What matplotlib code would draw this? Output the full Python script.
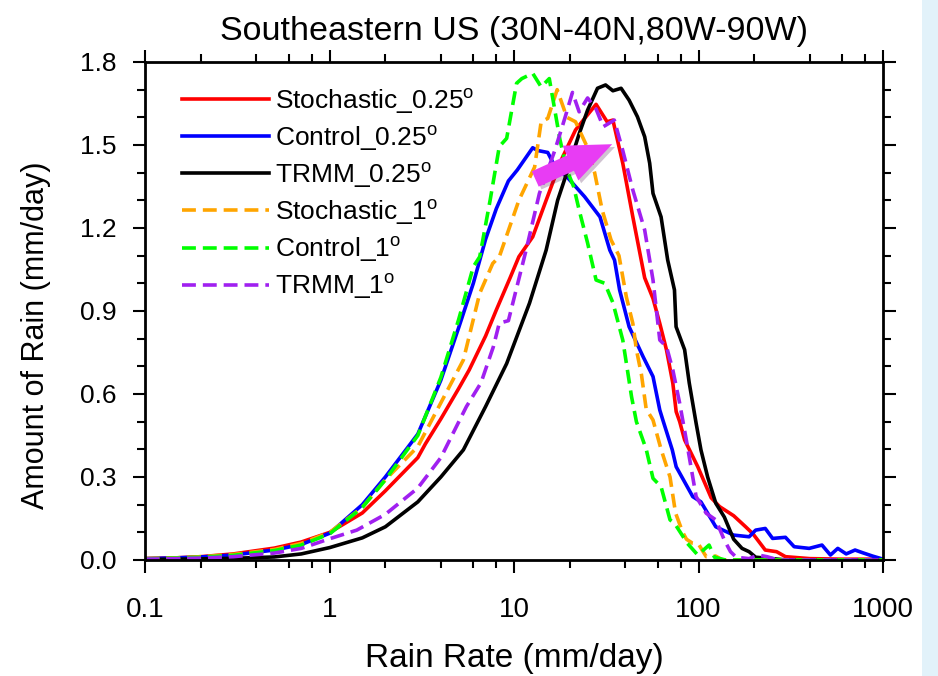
import matplotlib
matplotlib.use("Agg")
import matplotlib.pyplot as plt
from matplotlib.ticker import FixedLocator, NullFormatter
from matplotlib.patches import Rectangle, FancyArrowPatch
import matplotlib.patheffects as pe

plt.rcParams['font.family'] = ['Liberation Sans', 'DejaVu Sans']
plt.rcParams['mathtext.fontset'] = 'custom'
plt.rcParams['mathtext.rm'] = 'Liberation Sans'
plt.rcParams['lines.scale_dashes'] = False

title = "Southeastern US (30N-40N,80W-90W)"
xlabel = "Rain Rate (mm/day)"
ylabel = "Amount of Rain (mm/day)"
xticks = [0.1, 1, 10, 100, 1000]
xticklabels = ["0.1", "1", "10", "100", "1000"]
yticks = [0.0, 0.3, 0.6, 0.9, 1.2, 1.5, 1.8]
yticklabels = ["0.0", "0.3", "0.6", "0.9", "1.2", "1.5", "1.8"]

# Stochastic_0.25
stoch025_x = [0.1, 0.15, 0.2, 0.3, 0.5, 0.7, 1.0, 1.5, 2.0, 3.0, 3.3, 4.0, 5.0, 5.7, 7.0, 8.0, 9.5,
              10.6, 12.6, 14.9, 18.0, 21.5, 24.1, 27.8, 31.9, 34.3, 38.8, 44, 51, 56.6, 61.6, 67,
              72.5, 75.6, 79, 84, 99, 117, 130, 155, 180, 197, 230, 265, 296, 400, 600, 1000]
stoch025_y = [0.005, 0.008, 0.012, 0.022, 0.043, 0.065, 0.10, 0.17, 0.25, 0.37, 0.42, 0.51, 0.62,
              0.687, 0.81, 0.904, 1.02, 1.096, 1.168, 1.30, 1.446, 1.554, 1.596, 1.647, 1.584, 1.59,
              1.434, 1.24, 1.02, 0.945, 0.855, 0.759, 0.639, 0.536, 0.50, 0.434, 0.337, 0.225,
              0.193, 0.16, 0.12, 0.095, 0.036, 0.03, 0.012, 0.005, 0.003, 0.003]

# Control_0.25
ctrl025_x = [0.1, 0.15, 0.2, 0.3, 0.5, 0.7, 1.0, 1.5, 2.0, 3.0, 4.0, 5.0, 6.0, 7.0, 8.0, 9.3, 10.4,
             12.6, 13.4, 15.2, 16.7, 19.3, 24.1, 29.2, 33, 35, 37.3, 42, 50, 56.6, 61.6, 64, 72,
             75.6, 93, 103, 124, 155, 188, 204, 230, 252, 296, 330, 398, 467, 519, 569, 632, 706,
             778, 880, 990]
ctrl025_y = [0.005, 0.008, 0.011, 0.018, 0.036, 0.056, 0.097, 0.20, 0.30, 0.455, 0.65, 0.84, 1.0,
             1.16, 1.27, 1.37, 1.41, 1.49, 1.48, 1.473, 1.42, 1.385, 1.313, 1.24, 1.12, 1.084,
             0.976, 0.843, 0.735, 0.663, 0.542, 0.506, 0.398, 0.337, 0.229, 0.21, 0.12, 0.09,
             0.084, 0.108, 0.114, 0.078, 0.082, 0.048, 0.042, 0.054, 0.018, 0.042, 0.022, 0.036,
             0.026, 0.014, 0.004]

# TRMM_0.25
trmm025_x = [0.1, 0.15, 0.2, 0.3, 0.5, 0.7, 1.0, 1.5, 2.0, 3.0, 4.0, 5.3, 7.0, 9.1, 12.1, 14.9,
             17.2, 19.3, 22.5, 25, 28.3, 31.3, 34.3, 38, 42, 46.6, 51, 54.3, 56.6, 62.6, 68, 74,
             75.5, 84, 89, 97, 103, 112, 124, 138, 155, 172, 188, 204, 250, 300, 1000]
trmm025_y = [0.002, 0.003, 0.004, 0.006, 0.011, 0.022, 0.045, 0.08, 0.12, 0.21, 0.30, 0.398,
             0.555, 0.71, 0.928, 1.12, 1.30, 1.40, 1.54, 1.626, 1.705, 1.717, 1.696, 1.705, 1.662,
             1.602, 1.53, 1.434, 1.325, 1.24, 1.084, 0.976, 0.843, 0.76, 0.64, 0.494, 0.398, 0.30,
             0.205, 0.155, 0.075, 0.042, 0.03, 0.01, 0.005, 0.0, 0.0]

# Stochastic_1
stoch1_x = [0.1, 0.15, 0.2, 0.3, 0.5, 0.7, 1.0, 1.5, 2.0, 3.0, 4.0, 5.3, 6.5, 7.65, 8.3, 10.6,
            12.9, 14.0, 15.2, 17.1, 19.3, 21.5, 24.6, 27.3, 30, 33.5, 37, 40.6, 44, 46, 49, 52,
            56.6, 62.6, 70, 75, 82, 86, 93, 100, 110, 124, 135, 200, 1000]
stoch1_y = [0.005, 0.008, 0.012, 0.02, 0.038, 0.06, 0.10, 0.19, 0.29, 0.41, 0.568, 0.723, 0.964,
            1.072, 1.096, 1.30, 1.42, 1.584, 1.596, 1.70, 1.60, 1.584, 1.50, 1.40, 1.265, 1.157,
            1.10, 0.95, 0.855, 0.76, 0.67, 0.545, 0.506, 0.40, 0.30, 0.17, 0.10, 0.075, 0.06,
            0.057, 0.012, 0.014, 0.0, 0.0, 0.0]

# Control_1
ctrl1_x = [0.1, 0.15, 0.2, 0.3, 0.5, 0.7, 1.0, 1.5, 2.0, 3.0, 4.0, 5.0, 6.0, 6.5, 7.4, 8.3, 9.1,
           10.3, 11.0, 12.6, 14.0, 15.5, 17.7, 19.3, 21, 22.5, 25, 27.8, 31, 34.3, 38.8, 43.3, 46,
           52, 56.6, 62.6, 70, 74, 87, 99, 114, 122, 140, 200, 1000]
ctrl1_y = [0.004, 0.007, 0.01, 0.017, 0.034, 0.054, 0.095, 0.19, 0.29, 0.45, 0.66, 0.87, 1.06,
           1.096, 1.30, 1.494, 1.524, 1.723, 1.74, 1.759, 1.71, 1.74, 1.52, 1.41, 1.35, 1.265,
           1.146, 1.012, 1.0, 0.93, 0.795, 0.59, 0.50, 0.40, 0.295, 0.265, 0.145, 0.133, 0.06,
           0.018, 0.054, 0.01, 0.0, 0.0, 0.0]

# TRMM_1
trmm1_x = [0.1, 0.15, 0.2, 0.3, 0.5, 0.7, 1.0, 1.4, 2.0, 3.0, 4.0, 5.5, 6.6, 7.7, 8.3, 9.3, 11.6,
           13.7, 16.6, 18.8, 20.7, 22.5, 25, 27.8, 30.4, 34.9, 38.8, 44, 51, 56.6, 61.6, 67, 72.5,
           79, 86, 97, 110, 124, 138, 149, 160, 188, 210, 235, 270, 1000]
trmm1_y = [0.003, 0.005, 0.007, 0.012, 0.025, 0.042, 0.077, 0.108, 0.165, 0.26, 0.37, 0.554,
           0.64, 0.77, 0.856, 0.865, 1.12, 1.325, 1.48, 1.596, 1.69, 1.62, 1.67, 1.63, 1.566, 1.59,
           1.48, 1.337, 1.193, 1.012, 0.795, 0.771, 0.687, 0.566, 0.43, 0.229, 0.169, 0.145,
           0.072, 0.03, 0.01, 0.005, 0.018, 0.012, 0.0, 0.0]

deg = r"$^\mathregular{o}$"
series = [
    ("Stochastic_0.25" + deg, stoch025_x, stoch025_y, "#ff0000", "-"),
    ("Control_0.25" + deg, ctrl025_x, ctrl025_y, "#0000ff", "-"),
    ("TRMM_0.25" + deg, trmm025_x, trmm025_y, "#000000", "-"),
    ("Stochastic_1" + deg, stoch1_x, stoch1_y, "#ffa500", "--"),
    ("Control_1" + deg, ctrl1_x, ctrl1_y, "#00ff00", "--"),
    ("TRMM_1" + deg, trmm1_x, trmm1_y, "#a020f0", "--"),
]

fig = plt.figure(figsize=(9.38, 6.76), dpi=100)
fig.patches.append(Rectangle((922 / 938, 0), 16 / 938, 1, transform=fig.transFigure,
                             facecolor="#e2f2fa", edgecolor="none", zorder=0))
ax = fig.add_axes([0.1551, 0.1716, 0.7862, 0.7367])

for label, xs, ys, color, ls in series:
    kw = dict(color=color, lw=2.6, label=label)
    if ls == "--":
        kw["dashes"] = (10, 5)
    ax.plot(xs, ys, **kw)

ax.set_xscale("log")
ax.set_xlim(0.1, 1000)
ax.set_ylim(0.0, 1.8)
ax.xaxis.set_major_locator(FixedLocator(xticks))
ax.set_xticklabels(xticklabels)
minors = [m * d for d in [0.1, 1, 10, 100] for m in (2, 4, 6, 8)]
ax.xaxis.set_minor_locator(FixedLocator(minors))
ax.xaxis.set_minor_formatter(NullFormatter())
ax.set_yticks(yticks)
ax.set_yticklabels(yticklabels)
ax.yaxis.set_minor_locator(FixedLocator([i / 10 for i in range(19)]))

ax.tick_params(which="both", direction="out", top=True, right=True, width=1.5)
ax.tick_params(which="major", length=9)
ax.tick_params(which="minor", length=5.5)
ax.tick_params(axis="x", which="major", labelsize=20, pad=18)
ax.tick_params(axis="y", which="major", labelsize=19, pad=12)
for s in ax.spines.values():
    s.set_linewidth(2.0)

ax.set_title(title, fontsize=24.5, pad=16)
ax.set_xlabel(xlabel, fontsize=24, labelpad=14)
ax.set_ylabel(ylabel, fontsize=22)
ax.yaxis.set_label_coords(-0.128, 0.452)

leg = ax.legend(loc="upper left", bbox_to_anchor=(0.049, 0.952), frameon=False, fontsize=19,
                handlelength=3.3, handletextpad=0.25, labelspacing=0.28, borderpad=0,
                borderaxespad=0)

arrow = FancyArrowPatch((12.6, 1.373), (35.1, 1.507),
                        arrowstyle="simple,head_length=0.6,head_width=0.5,tail_width=0.22",
                        mutation_scale=55, color="#e83cf4", lw=0, zorder=10,
                        path_effects=[pe.SimplePatchShadow(offset=(2, -2), alpha=0.25), pe.Normal()])
ax.add_patch(arrow)

fig.savefig("out.png", dpi=100)
